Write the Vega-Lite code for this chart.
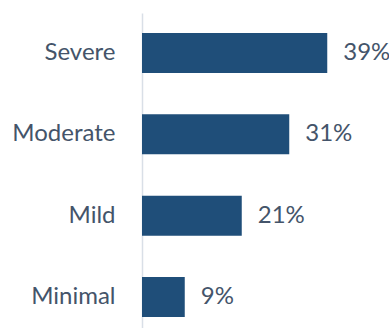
{
  "$schema": "https://vega.github.io/schema/vega-lite/v6.json",
  "autosize": "none",
  "width": 247,
  "height": 324,
  "padding": {"left": 142, "top": 13, "right": 0, "bottom": 0},
  "background": "white",
  "config": {"view": {"stroke": null}, "font": "Lato"},
  "data": {"values": [
    {"severity": "Severe", "share": 0.39},
    {"severity": "Moderate", "share": 0.31},
    {"severity": "Mild", "share": 0.21},
    {"severity": "Minimal", "share": 0.09}
  ]},
  "encoding": {
    "y": {"field": "severity", "type": "nominal", "sort": null,
      "scale": {"paddingInner": 0.508, "paddingOuter": 0.246},
      "axis": {"title": null, "ticks": false, "domainColor": "#D9DFE7", "domainWidth": 1.5,
        "labelFontSize": 24, "labelColor": "#44546A", "labelPadding": 27, "labelFont": "Lato"}},
    "x": {"field": "share", "type": "quantitative", "scale": {"domain": [0, 0.52]}, "axis": null}
  },
  "layer": [
    {"mark": {"type": "bar", "color": "#1F4E79"}},
    {"mark": {"type": "text", "align": "left", "dx": 16, "fontSize": 24, "color": "#44546A", "font": "Lato"},
     "encoding": {"text": {"field": "share", "type": "quantitative", "format": ".0%"}}}
  ]
}
